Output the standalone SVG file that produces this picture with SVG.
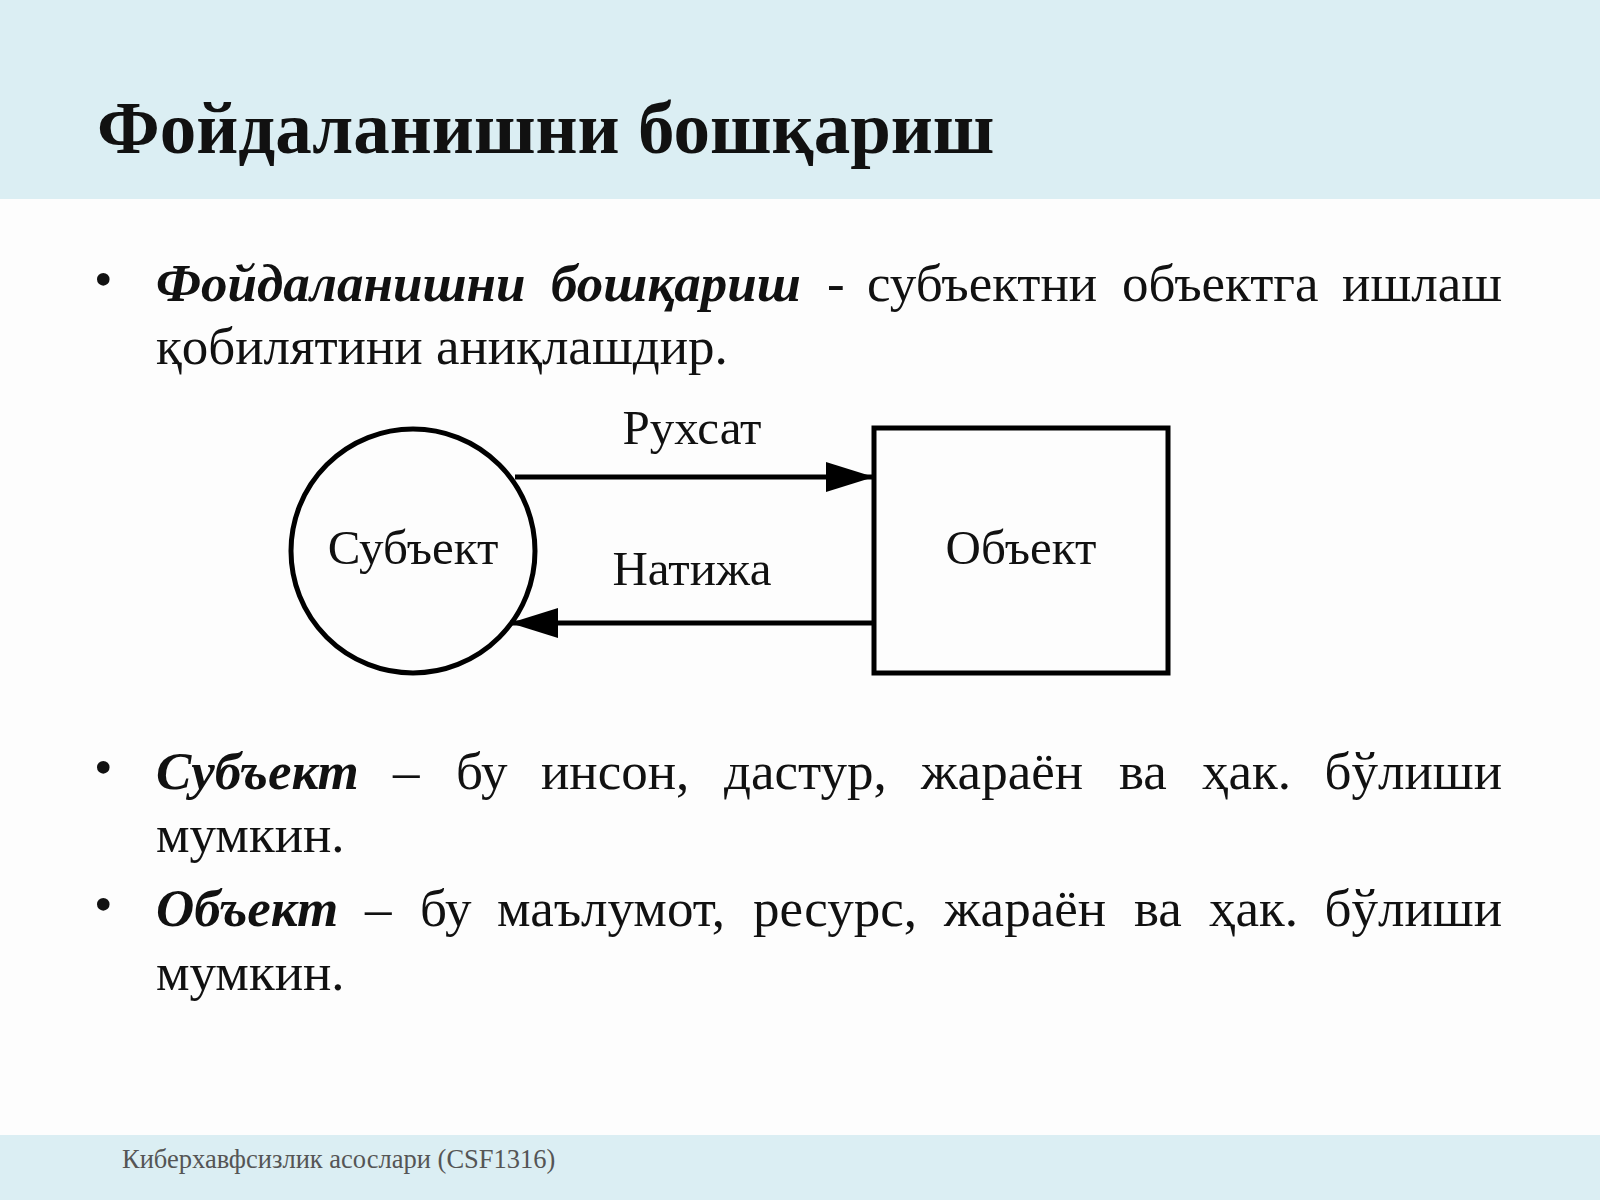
<svg xmlns="http://www.w3.org/2000/svg" width="1600" height="1200" viewBox="0 0 1600 1200">
<style>
.t{font-family:"Liberation Serif","DejaVu Serif",serif;fill:#111}
.b{font-size:53px}
.bi{font-weight:bold;font-style:italic}
.lbl{font-size:49px;text-anchor:middle}
.ln{stroke:#000;stroke-width:5;fill:none}
</style>
<defs>
<marker id="a" viewBox="0 0 48 30" refX="48" refY="15" markerWidth="48" markerHeight="30" markerUnits="userSpaceOnUse" orient="auto">
<path d="M0,0 L48,15 L0,30 z" fill="#000"/>
</marker>
</defs>
<rect width="1600" height="1200" fill="#fdfdfd"/>
<rect width="1600" height="199" fill="#dbeef3"/>
<rect y="1135" width="1600" height="65" fill="#dbeef3"/>
<text class="t" x="97" y="153" font-size="73" font-weight="bold">Фойдаланишни бошқариш</text>
<g id="bullet1" class="t b">
<text x="94" y="297">•</text>
<text class="bi" x="156" y="301">Фойдаланишни</text>
<text class="bi" x="551" y="301">бошқариш</text>
<text x="827" y="301">-</text>
<text x="867" y="301">субъектни</text>
<text x="1122" y="301">объектга</text>
<text x="1502" y="301" text-anchor="end">ишлаш</text>
<text x="156" y="364">қобилятини аниқлашдир.</text>
</g>
<g id="connectors">
<line class="ln" x1="515" y1="477" x2="874" y2="477" marker-end="url(#a)"/>
<line class="ln" x1="874" y1="623" x2="510" y2="623" marker-end="url(#a)"/>
<text class="t lbl" x="692" y="444">Рухсат</text>
<text class="t lbl" x="692" y="585">Натижа</text>
</g>
<g id="subject">
<circle class="ln" cx="413" cy="551" r="122"/>
<text class="t lbl" x="413" y="564">Субъект</text>
</g>
<g id="object">
<rect class="ln" x="874" y="428" width="294" height="245"/>
<text class="t lbl" x="1021" y="564">Объект</text>
</g>
<g id="bullet2" class="t b">
<text x="94" y="785">•</text>
<text class="bi" x="156" y="789">Субъект</text>
<text x="393" y="789">–</text>
<text x="456" y="789">бу</text>
<text x="541" y="789">инсон,</text>
<text x="724" y="789">дастур,</text>
<text x="921" y="789">жараён</text>
<text x="1119" y="789">ва</text>
<text x="1202" y="789">ҳак.</text>
<text x="1502" y="789" text-anchor="end">бўлиши</text>
<text x="156" y="852">мумкин.</text>
</g>
<g id="bullet3" class="t b">
<text x="94" y="922">•</text>
<text class="bi" x="156" y="926">Объект</text>
<text x="365" y="926">–</text>
<text x="420" y="926">бу</text>
<text x="497" y="926">маълумот,</text>
<text x="753" y="926">ресурс,</text>
<text x="944" y="926">жараён</text>
<text x="1134" y="926">ва</text>
<text x="1209" y="926">ҳак.</text>
<text x="1502" y="926" text-anchor="end">бўлиши</text>
<text x="156" y="990">мумкин.</text>
</g>
<text class="t" x="122" y="1168" font-size="26.5" style="fill:#555">Киберхавфсизлик асослари (CSF1316)</text>
</svg>
